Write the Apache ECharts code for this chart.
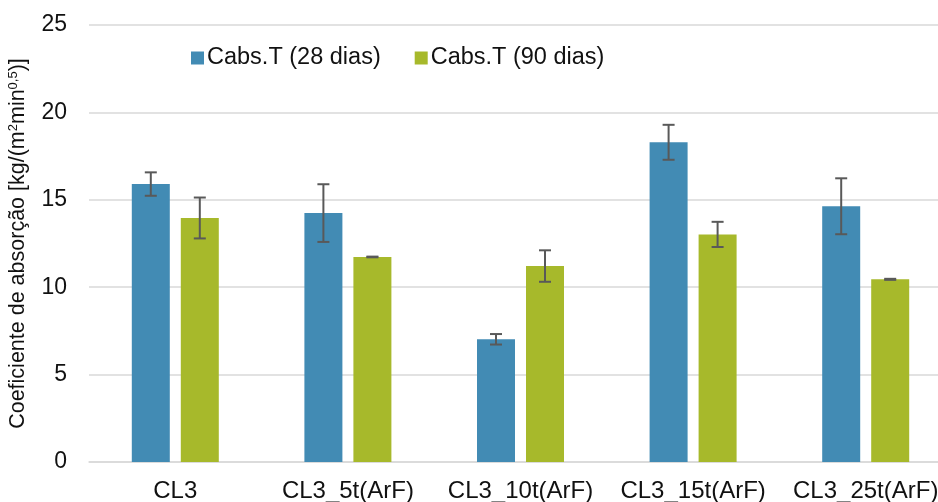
<!DOCTYPE html>
<html>
<head>
<meta charset="utf-8">
<script src="https://cdn.jsdelivr.net/npm/echarts@6/dist/echarts.min.js"></script>
<style>
  html, body { margin: 0; padding: 0; background: #fff; }
  #chart { width: 938px; height: 502px; }
</style>
</head>
<body>
<div id="chart"></div>
<script>
// Categories (mixes) and the two curing ages
const categories = ['CL3', 'CL3_5t(ArF)', 'CL3_10t(ArF)', 'CL3_15t(ArF)', 'CL3_25t(ArF)'];
const seriesNames = ['Cabs.T (28 dias)', 'Cabs.T (90 dias)'];

// Mean absorption coefficients
const cabs28 = [15.9, 14.24, 7.02, 18.29, 14.63];
const cabs90 = [13.96, 11.73, 11.21, 13.02, 10.45];

// Standard deviations (error bars)
const err28 = [0.67, 1.65, 0.30, 1.00, 1.60];
const err90 = [1.17, 0.02, 0.90, 0.72, 0.03];

// Value axis ticks
const yTicks = [0, 5, 10, 15, 20, 25];

const BLUE = '#428BB4';
const GREEN = '#A7B92B';
const BAR_W = 38;
const BAR_GAP = 11;
const FONT = 'Liberation Sans, Arial, sans-serif';

const chart = echarts.init(document.getElementById('chart'), null, { renderer: 'canvas' });

// Builds an error-bar series drawn on top of one bar series
function errorSeries(values, errs, offset) {
  return {
    type: 'custom',
    z: 10,
    silent: true,
    data: values.map((v, i) => [i, v - errs[i], v + errs[i]]),
    renderItem: function (params, api) {
      const i = api.value(0);
      const lo = api.coord([i, api.value(1)]);
      const hi = api.coord([i, api.value(2)]);
      const x = lo[0] + offset;
      const cap = 6;
      const style = { stroke: '#595959', lineWidth: 2 };
      return {
        type: 'group',
        children: [
          { type: 'line', shape: { x1: x, y1: lo[1], x2: x, y2: hi[1] }, style },
          { type: 'line', shape: { x1: x - cap, y1: lo[1], x2: x + cap, y2: lo[1] }, style },
          { type: 'line', shape: { x1: x - cap, y1: hi[1], x2: x + cap, y2: hi[1] }, style }
        ]
      };
    }
  };
}

const half = (BAR_W + BAR_GAP) / 2;

chart.setOption({
  animation: false,
  backgroundColor: '#fff',
  textStyle: { fontFamily: FONT },
  grid: { left: 89, width: 863, top: 25, bottom: 40, containLabel: false, outerBoundsMode: 'none' },
  legend: {
    left: 186,
    top: 41,
    itemWidth: 13,
    itemHeight: 13,
    itemGap: 34,
    icon: 'rect',
    textStyle: { fontSize: 23.5, color: '#111', fontFamily: FONT, padding: [0, 0, 0, -2] },
    data: seriesNames
  },
  xAxis: {
    type: 'category',
    data: categories,
    axisTick: { show: false },
    axisLine: { lineStyle: { color: '#d9d9d9', width: 1.5 } },
    axisLabel: { fontSize: 24, color: '#111', margin: 17, fontFamily: FONT, interval: 0 }
  },
  yAxis: {
    type: 'value',
    min: yTicks[0],
    max: yTicks[yTicks.length - 1],
    interval: yTicks[1] - yTicks[0],
    axisLine: { show: false },
    axisTick: { show: false },
    splitLine: { lineStyle: { color: '#d9d9d9', width: 1.5 } },
    axisLabel: { fontSize: 23, color: '#111', margin: 22, fontFamily: FONT },
    name: 'Coeficiente de absorção [kg/(m{s|2}min{s|0,5})]',
    nameLocation: 'middle',
    nameGap: 55,
    nameTextStyle: {
      fontSize: 21.5,
      color: '#111',
      fontFamily: FONT,
      lineHeight: 24,
      rich: {
        s: { fontSize: 13, verticalAlign: 'top', lineHeight: 24, color: '#111', fontFamily: FONT }
      }
    }
  },
  series: [
    {
      name: seriesNames[0],
      type: 'bar',
      data: cabs28,
      barWidth: BAR_W,
      barGap: (BAR_GAP / BAR_W * 100) + '%',
      itemStyle: { color: BLUE }
    },
    {
      name: seriesNames[1],
      type: 'bar',
      data: cabs90,
      barWidth: BAR_W,
      itemStyle: { color: GREEN }
    },
    errorSeries(cabs28, err28, -half),
    errorSeries(cabs90, err90, half)
  ]
});
</script>
</body>
</html>
